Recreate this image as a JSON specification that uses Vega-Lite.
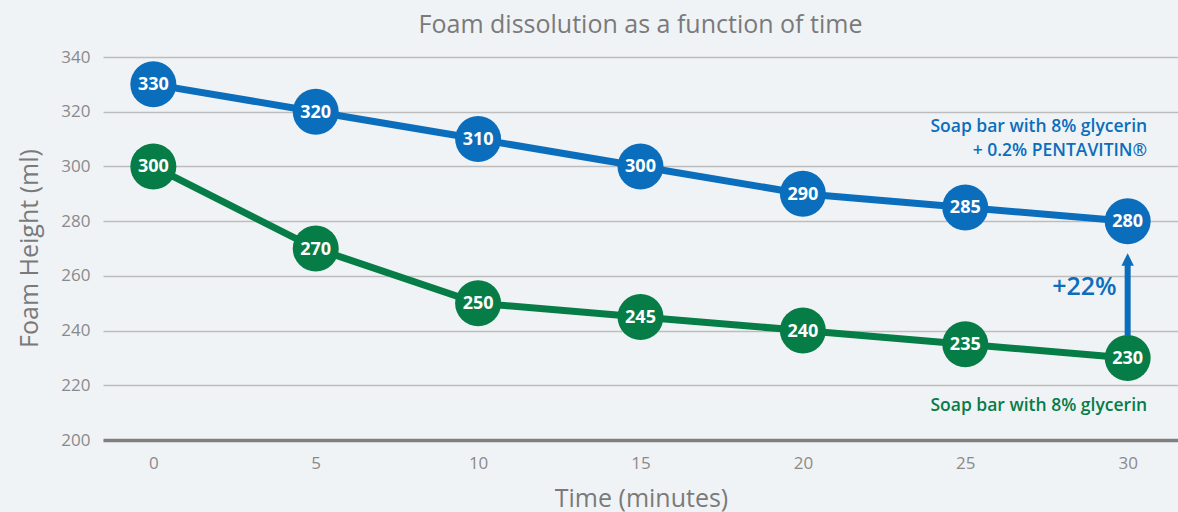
{
  "$schema": "https://vega.github.io/schema/vega-lite/v6.json",
  "autosize": "none",
  "width": 1075,
  "height": 383,
  "padding": {"left": 103, "top": 57, "right": 0, "bottom": 72},
  "background": "#f0f3f6",
  "config": {
    "view": {"stroke": null},
    "font": "Open Sans"
  },
  "title": {
    "text": "Foam dissolution as a function of time",
    "fontSize": 25,
    "fontWeight": "normal",
    "color": "#7a7a7a",
    "anchor": "middle",
    "offset": 10
  },
  "datasets": {
    "main": [
      {"time": 0, "height": 330, "series": "pentavitin"},
      {"time": 5, "height": 320, "series": "pentavitin"},
      {"time": 10, "height": 310, "series": "pentavitin"},
      {"time": 15, "height": 300, "series": "pentavitin"},
      {"time": 20, "height": 290, "series": "pentavitin"},
      {"time": 25, "height": 285, "series": "pentavitin"},
      {"time": 30, "height": 280, "series": "pentavitin"},
      {"time": 0, "height": 300, "series": "glycerin"},
      {"time": 5, "height": 270, "series": "glycerin"},
      {"time": 10, "height": 250, "series": "glycerin"},
      {"time": 15, "height": 245, "series": "glycerin"},
      {"time": 20, "height": 240, "series": "glycerin"},
      {"time": 25, "height": 235, "series": "glycerin"},
      {"time": 30, "height": 230, "series": "glycerin"}
    ],
    "notes": [
      {"time": 30.6, "height": 314.4, "series": "pentavitin", "label": "Soap bar with 8% glycerin"},
      {"time": 30.6, "height": 305.8, "series": "pentavitin", "label": "+ 0.2% PENTAVITIN®"},
      {"time": 30.6, "height": 212.4, "series": "glycerin", "label": "Soap bar with 8% glycerin"}
    ],
    "arrow": [
      {"time": 30, "from": 238, "to": 266, "series": "pentavitin", "label": "+22%"}
    ]
  },
  "layer": [
    {
      "data": {"name": "main"},
      "mark": {"type": "line", "strokeWidth": 7},
      "encoding": {
        "x": {
          "field": "time", "type": "quantitative",
          "scale": {"domain": [-1.55, 31.55], "nice": false, "zero": false},
          "axis": {
            "values": [0, 5, 10, 15, 20, 25, 30],
            "grid": false, "ticks": false,
            "domainColor": "#7f7f7f", "domainWidth": 3.5,
            "labelFontSize": 17, "labelColor": "#8a8a8a", "labelPadding": 15,
            "title": "Time (minutes)", "titleFontSize": 25, "titleFontWeight": "normal",
            "titleColor": "#7a7a7a", "titleX": 538, "titleY": 58,
            "titleBaseline": "middle", "titleAlign": "center", "titleAnchor": null
          }
        },
        "y": {
          "field": "height", "type": "quantitative",
          "scale": {"domain": [200, 340], "nice": false, "zero": false},
          "axis": {
            "values": [200, 220, 240, 260, 280, 300, 320, 340],
            "grid": true, "gridColor": "#bdbdbd", "gridWidth": 1.5,
            "domain": false, "ticks": false,
            "labelFontSize": 17, "labelColor": "#8a8a8a", "labelPadding": 13,
            "title": "Foam Height (ml)", "titleFontSize": 25, "titleFontWeight": "normal",
            "titleColor": "#7a7a7a", "titleX": -74, "titleY": 191,
            "titleAngle": -90, "titleBaseline": "middle", "titleAlign": "center", "titleAnchor": null
          }
        },
        "color": {
          "field": "series", "type": "nominal",
          "scale": {"domain": ["pentavitin", "glycerin"], "range": ["#0b6ebc", "#067c47"]},
          "legend": null
        },
        "detail": {"field": "series"}
      }
    },
    {
      "data": {"name": "main"},
      "mark": {"type": "point", "shape": "circle", "filled": true, "opacity": 1, "size": 2116},
      "encoding": {
        "x": {"field": "time", "type": "quantitative"},
        "y": {"field": "height", "type": "quantitative"},
        "color": {"field": "series", "type": "nominal", "legend": null}
      }
    },
    {
      "data": {"name": "main"},
      "mark": {"type": "text", "color": "white", "fontSize": 18, "fontWeight": "bold", "baseline": "middle", "align": "center", "dy": 1},
      "encoding": {
        "x": {"field": "time", "type": "quantitative"},
        "y": {"field": "height", "type": "quantitative"},
        "text": {"field": "height", "type": "quantitative"}
      }
    },
    {
      "data": {"name": "arrow"},
      "mark": {"type": "rule", "strokeWidth": 6},
      "encoding": {
        "x": {"field": "time", "type": "quantitative"},
        "y": {"field": "from", "type": "quantitative"},
        "y2": {"field": "to"},
        "color": {"field": "series", "type": "nominal", "legend": null}
      }
    },
    {
      "data": {"name": "arrow"},
      "mark": {"type": "point", "shape": "M-.5,.5L0,-.5L.5,.5Z", "filled": true, "opacity": 1, "size": 620},
      "encoding": {
        "x": {"field": "time", "type": "quantitative"},
        "y": {"field": "to", "type": "quantitative"},
        "color": {"field": "series", "type": "nominal", "legend": null}
      }
    },
    {
      "data": {"name": "arrow"},
      "mark": {"type": "text", "fontSize": 25, "fontWeight": 600, "align": "right", "baseline": "middle", "dx": -11, "dy": 28},
      "encoding": {
        "x": {"field": "time", "type": "quantitative"},
        "y": {"field": "to", "type": "quantitative"},
        "text": {"field": "label"},
        "color": {"field": "series", "type": "nominal", "legend": null}
      }
    },
    {
      "data": {"name": "notes"},
      "mark": {"type": "text", "fontSize": 17.5, "fontWeight": 600, "align": "right", "baseline": "middle"},
      "encoding": {
        "x": {"field": "time", "type": "quantitative"},
        "y": {"field": "height", "type": "quantitative"},
        "text": {"field": "label"},
        "color": {"field": "series", "type": "nominal", "legend": null}
      }
    }
  ]
}
